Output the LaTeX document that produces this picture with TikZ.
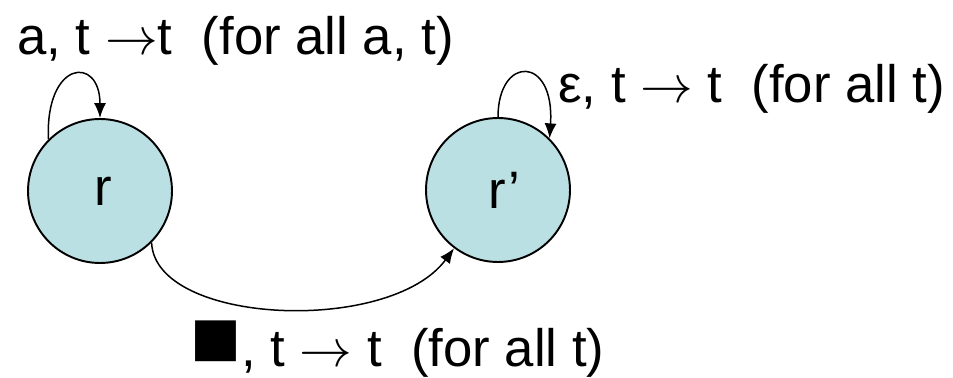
\documentclass[tikz,border=0pt]{standalone}
\usepackage{fix-cm}
\usepackage{fontspec}
\setmainfont{Liberation Sans}
\usetikzlibrary{arrows.meta}
\definecolor{statefill}{HTML}{BBE0E3}

\begin{document}
\begin{tikzpicture}[
  x=0.02cm, y=-0.02cm,
  state/.style={circle, draw=black, line width=1.1pt, fill=statefill,
                minimum size=2.88cm, inner sep=0pt,
                font=\fontsize{30}{36}\selectfont},
  trans/.style={anchor=base west, inner sep=0pt,
                font=\fontsize{30}{36}\selectfont},
  arrow/.style={-{Latex[length=3mm, width=2.4mm]}, line width=0.85pt}
]
  \useasboundingbox (0,0) rectangle (953,378);

  \node[state] (r) at (100,191) {\hspace{0.15cm}r};
  \node[state] (rp) at (498,190) {\hspace{0.25cm}r’};

  \node[trans] (loopr) at (17,55) {a, t $\rightarrow$t\ \ (for all a, t)};
  \node[trans] (looprp) at (558,103) {ε, t $\rightarrow$ t\ \ (for all t)};
  \node[trans] (move) at (190,366) {{\fontsize{48}{48}\selectfont ■}, t $\rightarrow$ t\ \ (for all t)};

  \draw[arrow] (r.135) .. controls (45,60) and (100,55) .. (r.north);
  \draw[arrow] (rp.north) .. controls (498,55) and (555,55) .. (rp.45);
  \draw[arrow] (r.-45) .. controls (155,325) and (390,335) .. (rp.-127);
\end{tikzpicture}
\end{document}
